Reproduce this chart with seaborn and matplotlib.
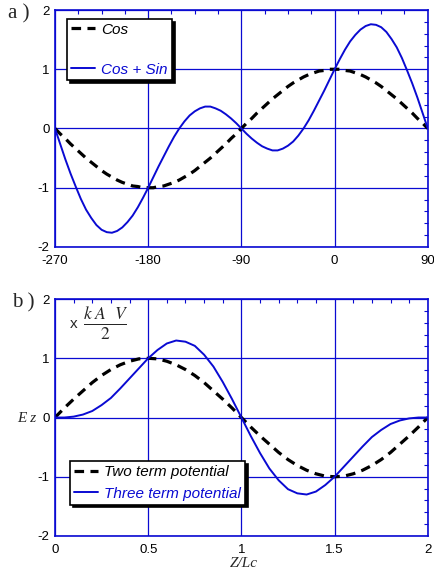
import numpy as np
import pandas as pd
import seaborn as sns
from matplotlib import pyplot as plt
from matplotlib.ticker import MultipleLocator

# panel a: phase angle (deg) and the two curves
ang = list(range(-270, 95, 5))
cos_vals = [0.0, -0.09, -0.17, -0.26, -0.34, -0.42, -0.5, -0.57, -0.64, -0.71,
            -0.77, -0.82, -0.87, -0.91, -0.94, -0.97, -0.98, -1.0, -1.0,
            -1.0, -0.98, -0.97, -0.94, -0.91, -0.87, -0.82, -0.77, -0.71, -0.64,
            -0.57, -0.5, -0.42, -0.34, -0.26, -0.17, -0.09, 0.0,
            0.09, 0.17, 0.26, 0.34, 0.42, 0.5, 0.57, 0.64, 0.71, 0.77,
            0.82, 0.87, 0.91, 0.94, 0.97, 0.98, 1.0, 1.0,
            1.0, 0.98, 0.97, 0.94, 0.91, 0.87, 0.82, 0.77, 0.71, 0.64,
            0.57, 0.5, 0.42, 0.34, 0.26, 0.17, 0.09, 0.0]
cos_sin_vals = [0.0, -0.26, -0.52, -0.76, -0.98, -1.19, -1.37, -1.51, -1.63, -1.71,
                -1.75, -1.76, -1.73, -1.67, -1.58, -1.47, -1.33, -1.17, -1.0,
                -0.82, -0.64, -0.47, -0.30, -0.14, 0.0, 0.12, 0.22, 0.29, 0.34,
                0.37, 0.37, 0.34, 0.30, 0.24, 0.17, 0.09, 0.0,
                -0.09, -0.17, -0.24, -0.30, -0.34, -0.37, -0.37, -0.34, -0.29, -0.22,
                -0.12, 0.0, 0.14, 0.30, 0.47, 0.64, 0.82, 1.0,
                1.17, 1.33, 1.47, 1.58, 1.67, 1.73, 1.76, 1.75, 1.71, 1.63,
                1.51, 1.37, 1.19, 0.98, 0.76, 0.52, 0.26, 0.0]

# panel b: Z/Lc and field values
zl = [0.0, 0.05, 0.1, 0.15, 0.2, 0.25, 0.3, 0.35, 0.4, 0.45, 0.5,
      0.55, 0.6, 0.65, 0.7, 0.75, 0.8, 0.85, 0.9, 0.95, 1.0,
      1.05, 1.1, 1.15, 1.2, 1.25, 1.3, 1.35, 1.4, 1.45, 1.5,
      1.55, 1.6, 1.65, 1.7, 1.75, 1.8, 1.85, 1.9, 1.95, 2.0]
two_term = [0.0, 0.16, 0.31, 0.45, 0.59, 0.71, 0.81, 0.89, 0.95, 0.99, 1.0,
            0.99, 0.95, 0.89, 0.81, 0.71, 0.59, 0.45, 0.31, 0.16, 0.0,
            -0.16, -0.31, -0.45, -0.59, -0.71, -0.81, -0.89, -0.95, -0.99, -1.0,
            -0.99, -0.95, -0.89, -0.81, -0.71, -0.59, -0.45, -0.31, -0.16, 0.0]
three_term = [0.0, 0.0, 0.015, 0.05, 0.11, 0.21, 0.33, 0.49, 0.66, 0.83, 1.0,
              1.14, 1.25, 1.30, 1.28, 1.21, 1.06, 0.86, 0.60, 0.31, 0.0,
              -0.31, -0.60, -0.86, -1.06, -1.21, -1.28, -1.30, -1.25, -1.14, -1.0,
              -0.83, -0.66, -0.49, -0.33, -0.21, -0.11, -0.05, -0.015, 0.0, 0.0]

top_xticks = [-270, -180, -90, 0, 90]
bot_xticks = [0, 0.5, 1, 1.5, 2]
bot_xlabels = ['0', '0.5', '1', '1.5', '2']
yticks = [-2, -1, 0, 1, 2]

sns.set_style('white')
plt.rcParams['font.family'] = ['Liberation Sans', 'DejaVu Sans']
blue = '#0a0ad2'

fig = plt.figure(figsize=(4.34, 5.73), dpi=100)
ax1 = fig.add_axes([0.1267, 0.569, 0.859, 0.4135])
ax2 = fig.add_axes([0.1267, 0.0646, 0.859, 0.4135])


def style_axes(ax, xmin, xmax, xmajor, xminor):
    ax.set_xlim(xmin, xmax)
    ax.set_ylim(-2, 2)
    ax.xaxis.set_major_locator(MultipleLocator(xmajor))
    ax.xaxis.set_minor_locator(MultipleLocator(xminor))
    ax.yaxis.set_major_locator(MultipleLocator(1))
    ax.yaxis.set_minor_locator(MultipleLocator(0.2))
    ax.grid(True, which='major', color=blue, lw=0.9)
    for s in ax.spines.values():
        s.set_color(blue)
        s.set_linewidth(1.2)
    ax.tick_params(which='both', direction='in', top=True, right=True, color=blue,
                   labelsize=9.5, labelcolor='black')
    ax.tick_params(which='major', length=0)
    ax.tick_params(axis='x', which='major', pad=6)
    ax.tick_params(axis='y', which='major', pad=4)
    ax.tick_params(which='minor', length=3, width=0.8)
    ax.set_xlabel('')
    ax.set_ylabel('')


def style_legend(leg):
    for t, c in zip(leg.get_texts(), ['black', blue]):
        t.set_color(c)
    leg.get_frame().set_linewidth(1.2)


# panel a
dfa = pd.DataFrame({'ang': ang, 'cos': cos_vals, 'cossin': cos_sin_vals})
sns.lineplot(data=dfa, x='ang', y='cos', ax=ax1, color='black', lw=2.3,
             label='Cos').lines[-1].set_dashes([3, 2])
sns.lineplot(data=dfa, x='ang', y='cossin', ax=ax1, color=blue, lw=1.4, label='Cos + Sin')
style_axes(ax1, -270, 90, 90, 22.5)
ax1.set_xticks(top_xticks, [str(t) for t in top_xticks])
ax1.set_yticks(yticks, [str(t) for t in yticks])
leg = ax1.legend(loc='upper left', bbox_to_anchor=(0.012, 0.995), frameon=True, fancybox=False,
                 shadow={'color': 'black', 'alpha': 1}, edgecolor='black', framealpha=1,
                 labelspacing=1.7, handlelength=1.6, handletextpad=0.4, borderpad=0.25,
                 prop={'style': 'italic', 'size': 11})
style_legend(leg)
fig.text(0.018, 0.975, 'a )', family='Liberation Serif', fontsize=15, va='center')

# panel b
dfb = pd.DataFrame({'z': zl, 'two': two_term, 'three': three_term})
sns.lineplot(data=dfb, x='z', y='two', ax=ax2, color='black', lw=2.3,
             label='Two term potential').lines[-1].set_dashes([3, 2])
sns.lineplot(data=dfb, x='z', y='three', ax=ax2, color=blue, lw=1.4, label='Three term potential')
style_axes(ax2, 0, 2, 0.5, 0.1)
ax2.set_xticks(bot_xticks, bot_xlabels)
ax2.set_yticks(yticks, [str(t) for t in yticks])
leg = ax2.legend(loc='lower left', bbox_to_anchor=(0.02, 0.1), frameon=True, fancybox=False,
                 shadow={'color': 'black', 'alpha': 1}, edgecolor='black', framealpha=1,
                 labelspacing=0.5, handlelength=1.6, handletextpad=0.4, borderpad=0.25,
                 prop={'style': 'italic', 'size': 11})
style_legend(leg)
fig.text(0.027, 0.471, 'b )', family='Liberation Serif', fontsize=15, va='center')
ax2.text(0.04, 0.895, 'x', transform=ax2.transAxes, fontsize=11, va='center')
ax2.text(0.075, 0.895, r'$\frac{k\ A\ \ V}{2}$', transform=ax2.transAxes, fontsize=18,
         va='center', math_fontfamily='stix')
fig.text(0.04, 0.27, 'E z', family='Liberation Serif', style='italic', fontsize=11, va='center')
fig.text(0.562, 0.016, 'Z/Lc', family='Liberation Serif', style='italic', fontsize=11,
         ha='center', va='center')

plt.savefig('out.png', dpi=100)
